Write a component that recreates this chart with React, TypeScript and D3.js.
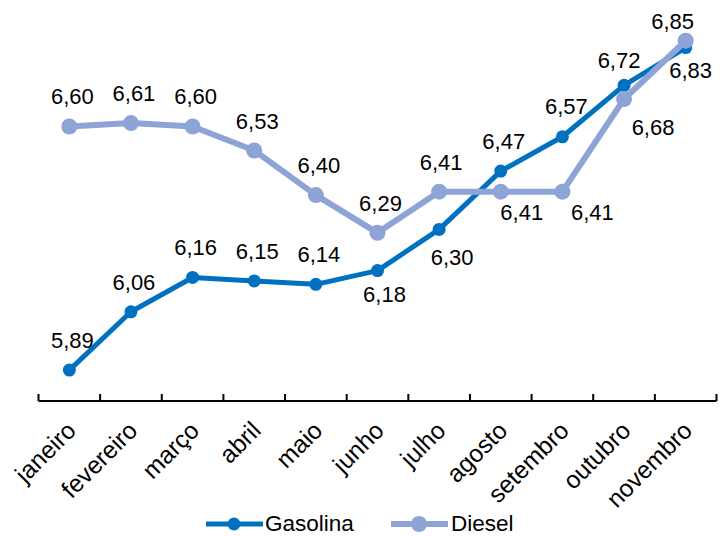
import React from "react";
import * as d3 from "d3";

const months = ["janeiro", "fevereiro", "março", "abril", "maio", "junho", "julho", "agosto", "setembro", "outubro", "novembro"];
const gasolina = [5.89, 6.06, 6.16, 6.15, 6.14, 6.18, 6.30, 6.47, 6.57, 6.72, 6.83];
const diesel = [6.60, 6.61, 6.60, 6.53, 6.40, 6.29, 6.41, 6.41, 6.41, 6.68, 6.85];
const seriesNames = ["Gasolina", "Diesel"];

// label placement (offset from point: dx, dy of baseline)
const gasLabelOffsets: [number, number][] = [
  [3, -22], [3, -22], [3, -22], [3, -22], [3, -22], [7, 31], [13, 36], [3, -22], [4, -23], [-5, -17], [5, 30],
];
const dieLabelOffsets: [number, number][] = [
  [3, -22], [3, -22], [3, -22], [3, -22], [3, -22], [3, -22], [2, -22], [21, 28], [30, 28], [29, 36], [-13, -12],
];

const W = 722;
const H = 536;
const FONT = "'Liberation Sans', Arial, sans-serif";
const GAS_COLOR = "#0070C0";
const DIE_COLOR = "#8FA4D6";

export default function App() {
  const x = d3.scaleBand<string>().domain(months).range([38.5, 716.5]).padding(0);
  const y = d3.scaleLinear().domain([5.8, 6.85]).range([401, 40.7]);
  const cx = (m: string) => (x(m) as number) + x.bandwidth() / 2;

  const line = d3
    .line<number>()
    .x((_, i) => cx(months[i]))
    .y((d) => y(d));

  const fmt = (v: number) => v.toFixed(2).replace(".", ",");

  const tickXs = [...months.map((m) => x(m) as number), x.range()[1]];

  const axisY = y(5.8);

  return (
    <svg
      width={W}
      height={H}
      style={{ position: "absolute", left: 0, top: 0, background: "#fff" }}
      fontFamily={FONT}
    >
      {/* axis */}
      <line x1={x.range()[0]} x2={x.range()[1]} y1={axisY} y2={axisY} stroke="#000" strokeWidth={2} />
      {tickXs.map((tx, i) => (
        <line key={i} x1={tx} x2={tx} y1={axisY} y2={axisY - 7} stroke="#000" strokeWidth={2} />
      ))}
      {months.map((m) => (
        <text
          key={m}
          transform={`translate(${cx(m) + 8},${axisY + 31}) rotate(-45)`}
          textAnchor="end"
          fontSize={24.5}
          fill="#000"
        >
          {m}
        </text>
      ))}

      {/* gasolina */}
      <path d={line(gasolina) || ""} fill="none" stroke={GAS_COLOR} strokeWidth={5} strokeLinejoin="round" />
      {gasolina.map((v, i) => (
        <circle key={i} cx={cx(months[i])} cy={y(v)} r={6.5} fill={GAS_COLOR} />
      ))}

      {/* diesel */}
      <path d={line(diesel) || ""} fill="none" stroke={DIE_COLOR} strokeWidth={6} strokeLinejoin="round" />
      {diesel.map((v, i) => (
        <circle key={i} cx={cx(months[i])} cy={y(v)} r={8} fill={DIE_COLOR} />
      ))}

      {/* labels */}
      {gasolina.map((v, i) => (
        <text
          key={"g" + i}
          x={cx(months[i]) + gasLabelOffsets[i][0]}
          y={y(v) + gasLabelOffsets[i][1]}
          textAnchor="middle"
          fontSize={22}
          fill="#000"
        >
          {fmt(v)}
        </text>
      ))}
      {diesel.map((v, i) => (
        <text
          key={"d" + i}
          x={cx(months[i]) + dieLabelOffsets[i][0]}
          y={y(v) + dieLabelOffsets[i][1]}
          textAnchor="middle"
          fontSize={22}
          fill="#000"
        >
          {fmt(v)}
        </text>
      ))}

      {/* legend */}
      <g>
        <line x1={206} x2={263} y1={524} y2={524} stroke={GAS_COLOR} strokeWidth={5} />
        <circle cx={234} cy={524} r={6.5} fill={GAS_COLOR} />
        <text x={265} y={530.5} fontSize={22.5} fill="#000">{seriesNames[0]}</text>
        <line x1={391} x2={448} y1={524} y2={524} stroke={DIE_COLOR} strokeWidth={6} />
        <circle cx={419} cy={524} r={8} fill={DIE_COLOR} />
        <text x={451} y={530.5} fontSize={22.5} fill="#000">{seriesNames[1]}</text>
      </g>
    </svg>
  );
}
